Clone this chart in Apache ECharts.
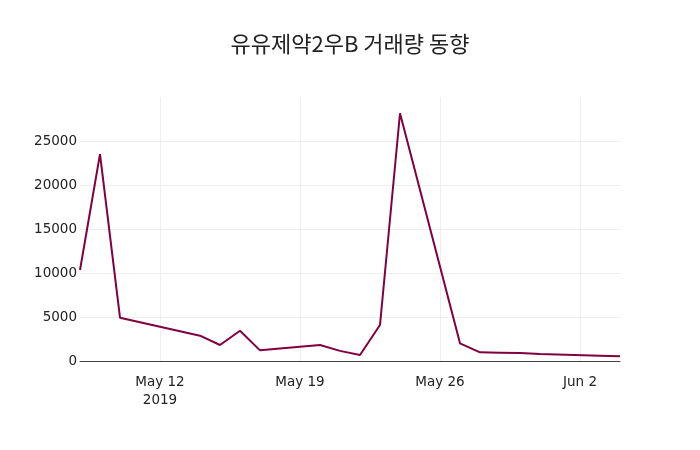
<!DOCTYPE html>
<html>
<head>
<meta charset="utf-8">
<script src="https://cdn.jsdelivr.net/npm/echarts@6/dist/echarts.min.js"></script>
<style>
  html, body { margin: 0; padding: 0; background: #fff; }
  #volume_chart { width: 700px; height: 450px; }
</style>
</head>
<body>
<div id="volume_chart"></div>
<script>
  // 거래일
  var tradeDates = ['2019-05-08', '2019-05-09', '2019-05-10', '2019-05-14', '2019-05-15', '2019-05-16',
    '2019-05-17', '2019-05-20', '2019-05-21', '2019-05-22', '2019-05-23', '2019-05-24',
    '2019-05-27', '2019-05-28', '2019-05-29', '2019-05-30', '2019-05-31', '2019-06-03', '2019-06-04']
  // 거래량
  var volumes = [10340, 23500, 4920, 2880, 1820, 3440,
    1210, 1820, 1150, 680, 4090, 28150,
    2010, 990, 950, 900, 790, 610, 550]
  // x축 눈금
  var weekTicks = ['2019-05-12', '2019-05-19', '2019-05-26', '2019-06-02']
  var yTicks = [0, 5000, 10000, 15000, 20000, 25000]

  var monthNames = ['Jan', 'Feb', 'Mar', 'Apr', 'May', 'Jun', 'Jul', 'Aug', 'Sep', 'Oct', 'Nov', 'Dec']
  var DAY = 86400000
  var startDay = '2019-05-08'
  var endDay = '2019-06-04'
  // 날짜 -> 시작일로부터 일수
  var toDay = function (s) {
    var p = s.split('-')
    var p0 = startDay.split('-')
    return Math.round((Date.UTC(+p[0], +p[1] - 1, +p[2]) - Date.UTC(+p0[0], +p0[1] - 1, +p0[2])) / DAY)
  }
  var fromDay = function (n) {
    var p0 = startDay.split('-')
    return new Date(Date.UTC(+p0[0], +p0[1] - 1, +p0[2]) + n * DAY)
  }
  var tickDays = weekTicks.map(toDay)

  var labelFont = '"DejaVu Sans", Verdana, sans-serif'

  var myChart = echarts.init(document.getElementById('volume_chart'), null, {renderer: 'canvas'})
  var option = {
    backgroundColor: '#fff',
    animation: false,
    title: {
      text: '유유제약2우B 거래량 동향',
      left: 'center',
      top: 28,
      textStyle: {
        fontFamily: '"Noto Sans CJK KR", sans-serif',
        fontSize: 22,
        fontWeight: 'normal',
        color: '#222'
      }
    },
    grid: {
      left: 80,
      right: 80,
      top: 97,
      bottom: 89
    },
    xAxis: {
      type: 'value',
      min: 0,
      max: toDay(endDay),
      axisLine: {show: true, onZero: false, lineStyle: {color: '#444', width: 1}},
      axisTick: {show: false, customValues: tickDays},
      splitLine: {show: true, lineStyle: {color: '#eee', width: 1}},
      axisLabel: {
        customValues: tickDays,
        margin: 12,
        color: '#222',
        fontSize: 13.5,
        lineHeight: 18,
        fontFamily: labelFont,
        formatter: function (val) {
          var d = fromDay(val)
          var s = monthNames[d.getUTCMonth()] + ' ' + d.getUTCDate()
          if (val === tickDays[0]) s += '\n' + d.getUTCFullYear()
          return s
        }
      }
    },
    yAxis: {
      type: 'value',
      min: 0,
      max: 30000,
      interval: 5000,
      axisLine: {show: false},
      axisTick: {show: false},
      splitLine: {show: true, showMaxLine: false, lineStyle: {color: '#eee', width: 1}},
      axisLabel: {
        showMaxLabel: false,
        margin: 3,
        color: '#222',
        fontSize: 13.5,
        fontFamily: labelFont,
        formatter: function (v) { return yTicks.indexOf(v) >= 0 ? String(v) : '' }
      }
    },
    series: [
      {
        name: '거래량',
        type: 'line',
        showSymbol: false,
        symbol: 'none',
        lineStyle: {color: '#800040', width: 2},
        data: tradeDates.map(function (d, i) { return [toDay(d), volumes[i]] })
      }
    ]
  }
  myChart.setOption(option, true)
</script>
</body>
</html>
